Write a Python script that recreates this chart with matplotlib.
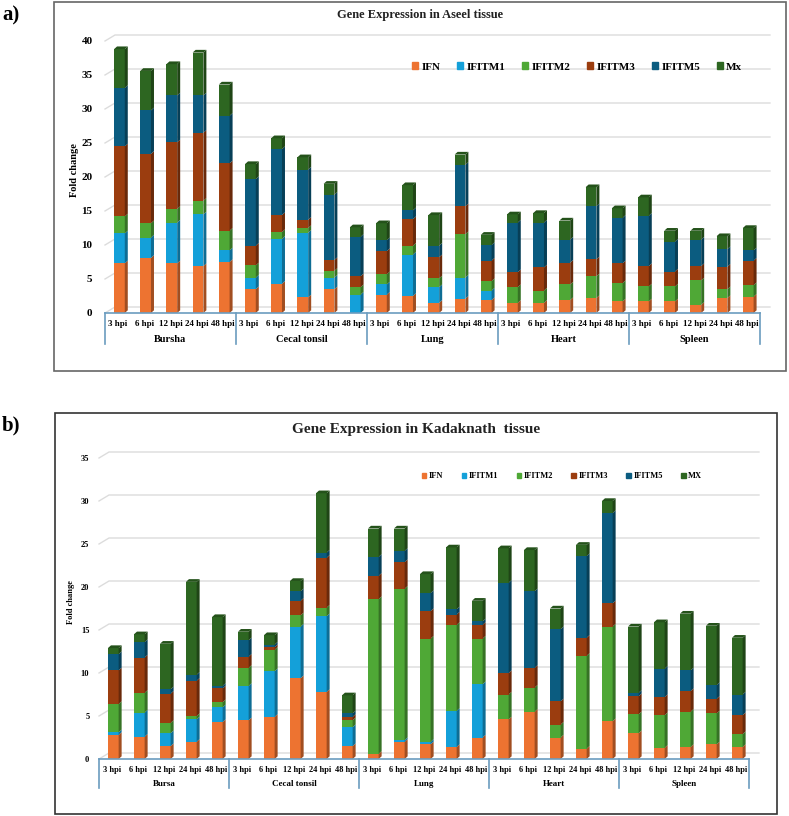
import numpy as np
import matplotlib
matplotlib.use("Agg")
import matplotlib.pyplot as plt
from matplotlib.patches import Patch, Rectangle

plt.rcParams['font.family'] = ['Liberation Serif', 'DejaVu Serif']
plt.rcParams['font.weight'] = 'bold'

W, H = 789, 816

tissues = ["Bursha", "Cecal tonsil", "Lung", "Heart", "Spleen"]
tissues_b = ["Bursa", "Cecal tonsil", "Lung", "Heart", "Spleen"]
hpi = ["3 hpi", "6 hpi", "12 hpi", "24 hpi", "48 hpi"]
genes_a = ["IFN", "IFITM1", "IFITM2", "IFITM3", "IFITM5", "Mx"]
genes_b = ["IFN", "IFITM1", "IFITM2", "IFITM3", "IFITM5", "MX"]
colors = ['#ED7331', '#14A0D9', '#4FA836', '#9B3D0F', '#0B5C80', '#2D6621']

# a) Aseel - fold change per gene, 25 bars (5 tissues x 5 time points)
a_ifn = [7.3, 8.1, 7.3, 6.9, 7.5, 3.5, 4.3, 2.3, 3.5, 0.0, 2.7, 2.5, 1.5, 2.1, 1.9,
         1.5, 1.5, 1.9, 2.2, 1.7, 1.7, 1.7, 1.2, 2.2, 2.4]
a_ifitm1 = [4.4, 3.0, 6.0, 7.6, 1.7, 1.7, 6.6, 9.5, 1.7, 2.7, 1.5, 6.1, 2.3, 3.1, 1.4,
            0, 0, 0, 0, 0, 0, 0, 0, 0, 0]
a_ifitm2 = [2.5, 2.1, 2.0, 2.0, 2.9, 1.8, 1.0, 0.7, 1.0, 1.1, 1.5, 1.3, 1.3, 6.4, 1.4,
            2.3, 1.8, 2.3, 3.2, 2.7, 2.2, 2.2, 3.6, 1.3, 1.7]
a_ifitm3 = [10.3, 10.2, 9.8, 10.0, 9.9, 2.9, 2.5, 1.2, 1.6, 1.6, 3.4, 3.9, 3.1, 4.1, 3.0,
            2.2, 3.4, 3.2, 2.5, 2.9, 3.0, 2.2, 2.1, 3.3, 3.6]
a_ifitm5 = [8.6, 6.4, 6.9, 5.5, 7.0, 9.8, 9.7, 7.4, 9.6, 5.8, 1.6, 1.3, 1.7, 6.1, 2.3,
            7.3, 6.6, 3.4, 7.8, 6.7, 7.4, 4.4, 3.9, 2.6, 1.5]
a_mx = [5.7, 5.8, 4.6, 6.3, 4.6, 2.2, 1.6, 1.8, 1.6, 1.4, 2.5, 3.7, 4.5, 1.5, 1.5,
        1.2, 1.4, 2.8, 2.8, 1.4, 2.7, 1.6, 1.3, 1.9, 3.3]

# b) Kadaknath
b_ifn = [2.8, 2.6, 1.5, 2.0, 4.3, 4.5, 4.9, 9.4, 7.8, 1.5, 0.6, 2.0, 1.7, 1.4, 2.5,
         4.6, 5.5, 2.5, 1.2, 4.4, 3.0, 1.3, 1.4, 1.7, 1.4]
b_ifitm1 = [0.3, 2.8, 1.5, 2.6, 1.7, 4.0, 5.3, 6.0, 8.8, 2.2, 0, 0.2, 0.3, 4.2, 6.2,
            0, 0, 0, 0, 0, 0, 0, 0, 0, 0]
b_ifitm2 = [3.3, 2.3, 1.2, 0.4, 0.6, 2.1, 2.5, 1.3, 1.0, 0.8, 18.0, 17.6, 12.0, 10.0, 5.3,
            2.9, 2.8, 1.5, 10.8, 11.0, 2.2, 3.8, 4.1, 3.6, 1.5]
b_ifitm3 = [3.9, 4.1, 3.4, 4.1, 1.6, 1.3, 0.3, 1.7, 5.8, 0.4, 2.7, 3.1, 3.2, 1.2, 1.6,
            2.5, 2.3, 2.7, 2.1, 2.7, 2.1, 2.1, 2.4, 1.7, 2.2]
b_ifitm5 = [1.9, 1.8, 0.5, 0.7, 0.3, 1.9, 0.3, 1.1, 0.6, 0.4, 2.2, 1.3, 2.1, 0.6, 0.4,
            10.5, 8.9, 8.4, 9.5, 10.5, 0.4, 3.3, 2.4, 1.6, 2.4]
b_mx = [0.7, 0.9, 5.3, 10.8, 8.0, 1.0, 1.1, 1.2, 6.9, 2.1, 3.3, 2.6, 2.2, 7.2, 2.4,
        4.0, 4.8, 2.4, 1.3, 1.4, 7.7, 5.4, 6.6, 6.9, 6.6]


def shade(c, f):
    rgb = np.array(matplotlib.colors.to_rgb(c))
    return tuple(rgb * f)


def draw_panel(fig, box, ppu, ymax, series, genes, groups, title, s):
    l, r, b = box
    t = b - ymax * ppu
    ax = fig.add_axes([l / W, 1 - b / H, (r - l) / W, (b - t) / H])
    n = len(series[0])
    slot = (r - l) / n
    x = np.arange(n)
    w = 0.41
    dx = 3.0 / slot
    dy = 2.7 / ppu
    gdx = 10.0 / slot
    gdy = 6.0 / ppu

    ax.set_xlim(-0.5, n - 0.5)
    ax.set_ylim(0, ymax)
    for sp in ax.spines.values():
        sp.set_visible(False)

    # back wall grid lines
    for v in range(0, int(ymax) + 1, 5):
        ax.plot([-0.5, -0.5 + gdx, n - 0.5 + gdx], [v, v + gdy, v + gdy],
                color='#dcdcdc', lw=1, zorder=0, clip_on=False)

    bottom = np.zeros(n)
    xc = x + 0.05
    for k, vals in enumerate(series):
        vals = np.array(vals, dtype=float)
        ax.bar(xc, vals, w, bottom=bottom, color=colors[k], zorder=2,
               label=genes[k], linewidth=0)
        for i in range(n):
            if vals[i] <= 0:
                continue
            y0 = bottom[i]
            y1 = bottom[i] + vals[i]
            xr = xc[i] + w / 2
            ax.fill([xr, xr + dx, xr + dx, xr], [y0, y0 + dy, y1 + dy, y1],
                    color=shade(colors[k], 0.68), zorder=2, lw=0)
        bottom = bottom + vals
    # top caps
    for i in range(n):
        top = bottom[i]
        xl = xc[i] - w / 2
        xr = xc[i] + w / 2
        ax.fill([xl, xl + dx, xr + dx, xr], [top, top + dy, top + dy, top],
                color=shade(colors[-1], 0.8), zorder=3, lw=0)

    # category axis
    axcol = '#6b9cbf'
    ax.plot([-0.5, n - 0.5], [0, 0], color=axcol, lw=1.2, zorder=3, clip_on=False)
    tr = ax.get_xaxis_transform()
    sep = s['sep'] / (b - t)
    for g in range(len(groups) + 1):
        ax.plot([g * 5 - 0.5, g * 5 - 0.5], [0, -sep], color=axcol, lw=1.2,
                transform=tr, clip_on=False)
    for i in range(n):
        ax.annotate(hpi[i % 5], (x[i], 0), xycoords=tr, xytext=(0, -s['hpi_y']),
                    textcoords='offset pixels', ha='center', va='center',
                    fontsize=s['hpi_fs'], fontweight='bold')
    for g, name in enumerate(groups):
        ax.annotate(name, (g * 5 + 2, 0), xycoords=tr, xytext=(0, -s['grp_y']),
                    textcoords='offset pixels', ha='center', va='center',
                    fontsize=s['grp_fs'], fontweight='bold')

    ax.set_xticks([])
    ax.set_yticks(range(0, int(ymax) + 1, 5))
    ax.tick_params(axis='y', length=0, pad=s['pad'], labelsize=s['tick_fs'])
    for lab in ax.get_yticklabels():
        lab.set_fontweight('bold')
    ax.set_ylabel("Fold change", fontsize=s['yl_fs'], fontweight='bold',
                  labelpad=s['ylpad'])

    fig.text(s['title_x'] / W, 1 - s['title_y'] / H, title, ha='center',
             va='center', fontsize=s['title_fs'], fontweight='bold', color='#222222')

    handles = [Patch(color=c) for c in colors]
    ax.legend(handles, genes, ncol=6, loc='center',
              bbox_to_anchor=(s['leg_x'] / W, 1 - s['leg_y'] / H),
              bbox_transform=fig.transFigure, frameon=False,
              handlelength=0.55, handleheight=0.55, handletextpad=0.3,
              columnspacing=s['colsp'], prop={'size': s['leg_fs'], 'weight': 'bold'})
    return ax


fig = plt.figure(figsize=(W / 100, H / 100), dpi=100)

# panel frames
fig.patches.append(Rectangle((54 / W, 1 - 371 / H), (786 - 54) / W, (371 - 2) / H,
                             transform=fig.transFigure, fill=False,
                             edgecolor='#666666', lw=1.2))
fig.patches.append(Rectangle((55 / W, 1 - 814 / H), (777 - 55) / W, (814 - 413) / H,
                             transform=fig.transFigure, fill=False,
                             edgecolor='#333333', lw=1.2))

style_a = dict(sep=31, hpi_y=11, grp_y=27, hpi_fs=6.5, grp_fs=7.5, pad=9, tick_fs=8,
               yl_fs=7.5, ylpad=2, title_x=420, title_y=15, title_fs=9,
               leg_x=577, leg_y=67, leg_fs=8, colsp=1.5)
draw_panel(fig, (105, 760, 313), 6.8, 42,
           [a_ifn, a_ifitm1, a_ifitm2, a_ifitm3, a_ifitm5, a_mx],
           genes_a, tissues, "Gene Expression in Aseel tissue", style_a)

style_b = dict(sep=29, hpi_y=11, grp_y=25, hpi_fs=6, grp_fs=6.5, pad=7, tick_fs=6,
               yl_fs=6, ylpad=4, title_x=416, title_y=429, title_fs=11,
               leg_x=562, leg_y=476, leg_fs=6, colsp=2.2)
draw_panel(fig, (99, 749, 759), 8.6, 36.5,
           [b_ifn, b_ifitm1, b_ifitm2, b_ifitm3, b_ifitm5, b_mx],
           genes_b, tissues_b, "Gene Expression in Kadaknath  tissue", style_b)

fig.text(2 / W, 1 - 15 / H, "a)", ha='left', va='center', fontsize=15, fontweight='bold')
fig.text(2 / W, 1 - 425 / H, "b)", ha='left', va='center', fontsize=15, fontweight='bold')

fig.savefig("out.png", dpi=100)
